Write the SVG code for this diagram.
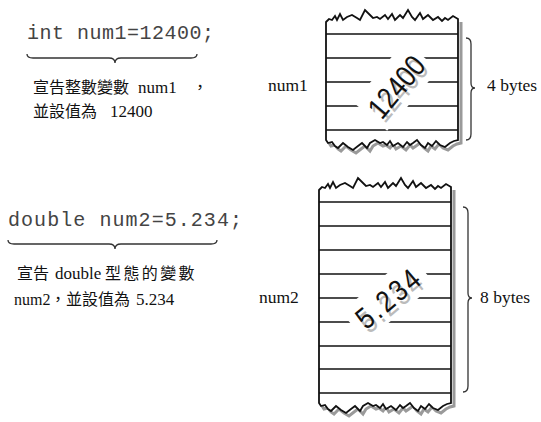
<svg xmlns="http://www.w3.org/2000/svg" width="541" height="422" viewBox="0 0 541 422">
<style>
.code{font-family:"Liberation Mono","Courier New",monospace;font-size:20px;fill:#444}
.desc{font-family:"Liberation Serif","Noto Sans CJK TC",serif;font-size:16px;fill:#111}
.lat{font-size:17px}
.lbl{font-family:"Liberation Serif","Times New Roman",serif;font-size:17.5px;fill:#111}
.box{fill:#fff;stroke:#111;stroke-width:1.8;stroke-linejoin:miter}
.shadow{fill:none;stroke:#9a9a9a;stroke-width:3}
.row{stroke:#111;stroke-width:1.6}
.brace{fill:none;stroke:#333;stroke-width:1.3}
.val{font-family:"Liberation Sans",Arial,sans-serif;font-size:30px;text-anchor:middle}
</style>
<rect width="541" height="422" fill="#fff"/>

<g id="decl1">
<text class="code" x="27" y="39" textLength="187" lengthAdjust="spacing">int num1=12400;</text>
<text class="desc" x="33" y="93">宣告整數變數<tspan class="lat" x="138">num1</tspan><tspan x="192">，</tspan></text>
<text class="desc" x="33" y="117">並設值為<tspan class="lat" x="110">12400</tspan></text>
</g>

<g id="decl2">
<text class="code" x="8" y="226" textLength="234" lengthAdjust="spacing">double num2=5.234;</text>
<text class="desc" x="17" y="279">宣告<tspan class="lat" x="55">double</tspan><tspan x="105" letter-spacing="2.4">型態的變數</tspan></text>
<text class="desc" x="14" y="305">num2<tspan x="50">，</tspan><tspan x="66">並設值為</tspan><tspan class="lat" x="136">5.234</tspan></text>
</g>

<g id="mem1">
<path class="shadow" d="M461,22 L461,143 L457,144 L453,146 L448,150 L443,148 L439,144 L435,149 L431,146 L428,151 L424,148 L420,143 L416,146 L413,148 L410,145 L406,150 L401,146 L396,149 L393,144 L390,148 L386,145 L383,146 L378,143 L373,146 L370,151 L365,146 L361,149 L356,153 L351,150 L346,146 L341,151 L338,149 L335,145 L331,146 L329,143"/>
<path class="box" d="M326,22 L329,19 L332,20 L335,16 L337,20 L340,14 L343,20 L347,17 L352,15 L357,18 L360,20 L365,10 L370,15 L373,18 L377,17 L380,19 L385,15 L388,19 L392,14 L395,20 L400,15 L403,18 L408,10 L412,17 L415,20 L420,13 L423,19 L428,15 L433,20 L438,17 L442,21 L445,18 L448,20 L453,16 L458,19 L458,140 L454,141 L450,143 L445,147 L440,145 L436,141 L432,146 L428,143 L425,148 L421,145 L417,140 L413,143 L410,145 L407,142 L403,147 L398,143 L393,146 L390,141 L387,145 L383,142 L380,143 L375,140 L370,143 L367,148 L362,143 L358,146 L353,150 L348,147 L343,143 L338,148 L335,146 L332,142 L328,143 L326,140 Z"/>
<g class="row">
<line x1="326" y1="34" x2="458" y2="34"/>
<line x1="326" y1="58" x2="458" y2="58"/>
<line x1="326" y1="82" x2="458" y2="82"/>
<line x1="326" y1="106" x2="458" y2="106"/>
<line x1="326" y1="130" x2="458" y2="130"/>
</g>
<rect x="-40" y="-22" width="80" height="44" fill="#fff" transform="translate(396,86) rotate(-50)"/>
<text class="val" fill="#bbb" x="0" y="11" transform="translate(399,90) rotate(-50) scale(0.85,1)">12400</text>
<text class="val" fill="#111" x="0" y="11" transform="translate(396,86.5) rotate(-50) scale(0.85,1)">12400</text>
<text class="lbl" x="268" y="91">num1</text>
<text class="lbl" x="487" y="91">4 bytes</text>
</g>

<g id="mem2">
<path class="shadow" d="M454,190 L454,406 L450,407 L446,409 L441,413 L436,411 L432,407 L428,412 L424,409 L421,414 L417,411 L413,406 L409,409 L406,411 L403,408 L399,413 L394,409 L389,412 L386,407 L383,411 L379,408 L376,409 L371,406 L366,409 L363,414 L358,409 L354,412 L349,416 L344,413 L339,409 L334,414 L331,412 L328,408 L324,409 L322,406"/>
<path class="box" d="M319,190 L322,187 L325,188 L328,184 L330,188 L333,182 L336,188 L340,185 L345,183 L350,186 L353,188 L358,178 L363,183 L366,186 L370,185 L373,187 L378,183 L381,187 L385,182 L388,188 L393,183 L396,186 L401,178 L405,185 L408,188 L413,181 L416,187 L421,183 L426,188 L431,185 L435,189 L438,186 L441,188 L446,184 L451,187 L451,403 L447,404 L443,406 L438,410 L433,408 L429,404 L425,409 L421,406 L418,411 L414,408 L410,403 L406,406 L403,408 L400,405 L396,410 L391,406 L386,409 L383,404 L380,408 L376,405 L373,406 L368,403 L363,406 L360,411 L355,406 L351,409 L346,413 L341,410 L336,406 L331,411 L328,409 L325,405 L321,406 L319,403 Z"/>
<g class="row">
<line x1="319" y1="202" x2="451" y2="202"/>
<line x1="319" y1="226" x2="451" y2="226"/>
<line x1="319" y1="250" x2="451" y2="250"/>
<line x1="319" y1="274" x2="451" y2="274"/>
<line x1="319" y1="298" x2="451" y2="298"/>
<line x1="319" y1="322" x2="451" y2="322"/>
<line x1="319" y1="346" x2="451" y2="346"/>
<line x1="319" y1="369" x2="451" y2="369"/>
<line x1="319" y1="393" x2="451" y2="393"/>
</g>
<rect x="-45" y="-19.5" width="90" height="39" fill="#fff" transform="translate(388,298) rotate(-40)"/>
<text class="val" fill="#bbb" x="0" y="11" letter-spacing="3" transform="translate(391.5,301.5) rotate(-40) scale(0.85,1)">5.234</text>
<text class="val" fill="#111" x="0" y="11" letter-spacing="3" transform="translate(388.5,297.5) rotate(-40) scale(0.85,1)">5.234</text>
<text class="lbl" x="259" y="303">num2</text>
<text class="lbl" x="480" y="303">8 bytes</text>
</g>

<g id="connectors">
<path class="brace" d="M27,54 Q27,58 33,58 L109,58 Q115,58 115,63 Q115,58 121,58 L191,58 Q197,58 197,54"/>
<path class="brace" d="M8,240 Q8,244 14,244 L109,244 Q115,244 115,249 Q115,244 121,244 L211,244 Q217,244 217,240"/>
<path class="brace" d="M466,38 Q471,38 471,44 L471,83 Q471,88 475,88 Q471,88 471,93 L471,134 Q471,140 466,140"/>
<path class="brace" d="M463,207 Q468,207 468,213 L468,293 Q468,298 472,298 Q468,298 468,303 L468,386 Q468,392 463,392"/>
</g>
</svg>
